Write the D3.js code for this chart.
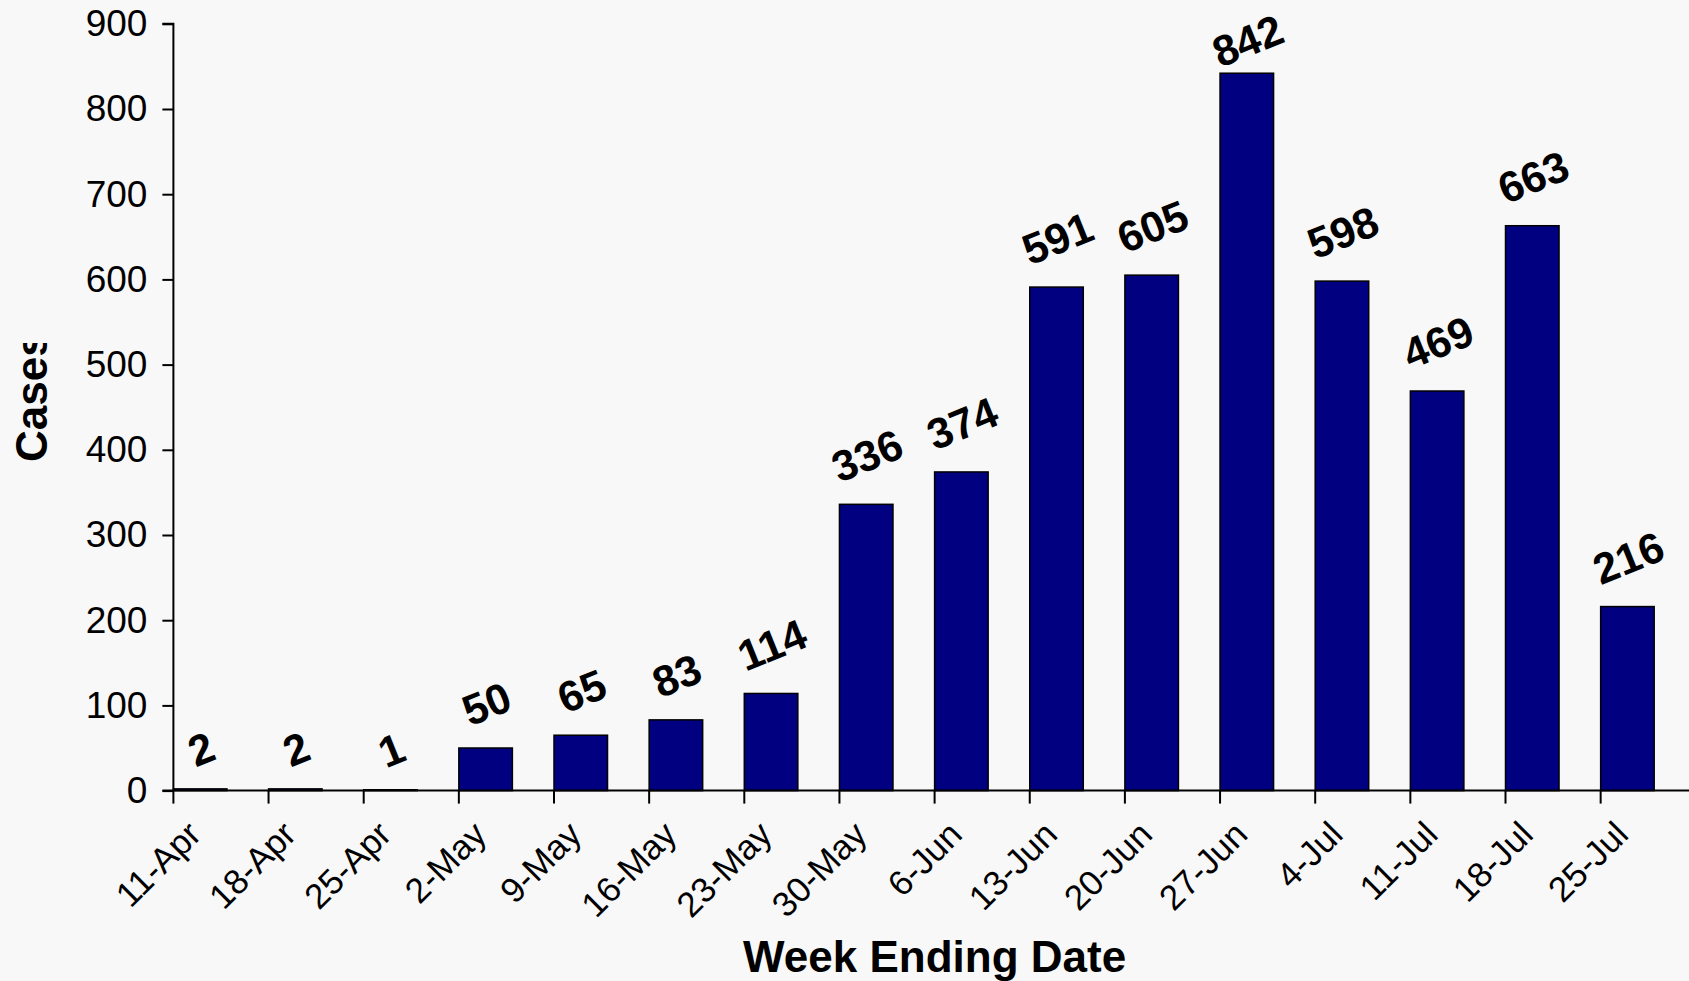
<!DOCTYPE html>
<html>
<head>
<meta charset="utf-8">
<script src="https://cdn.jsdelivr.net/npm/d3@7"></script>
<style>
  html, body { margin: 0; padding: 0; background: #f8f8f8; }
  svg { display: block; }
  text { font-family: "Liberation Sans", Arial, sans-serif; fill: #000; }
</style>
</head>
<body>
<svg id="chart" width="1689" height="981"></svg>
<script>
const categories = ["11-Apr","18-Apr","25-Apr","2-May","9-May","16-May","23-May","30-May","6-Jun","13-Jun","20-Jun","27-Jun","4-Jul","11-Jul","18-Jul","25-Jul"];
const cases = [2,2,1,50,65,83,114,336,374,591,605,842,598,469,663,216];
const yTicks = [0,100,200,300,400,500,600,700,800,900];
const xTitle = "Week Ending Date";
const yTitle = "Cases";

const W = 1689, H = 981;
const svg = d3.select("#chart");
svg.append("rect").attr("width", W).attr("height", H).attr("fill", "#f8f8f8");

const plotLeft = 173.4, step = 95.15;
const plotRight = plotLeft + step * categories.length;
const y0 = 790.6, yTop = 23.8;

const x = d3.scaleBand().domain(categories).range([plotLeft, plotRight]).paddingInner(0).paddingOuter(0);
const y = d3.scaleLinear().domain([0, 900]).range([y0, yTop]);
const barW = x.bandwidth() * 0.5625;

// bars
svg.append("g").selectAll("rect").data(categories).join("rect")
  .attr("x", (c) => x(c))
  .attr("y", (c, i) => y(cases[i]))
  .attr("width", barW)
  .attr("height", (c, i) => y0 - y(cases[i]))
  .attr("fill", "#000080")
  .attr("stroke", "#000")
  .attr("stroke-width", 1.5);

// y axis
const yAxis = d3.axisLeft(y).tickValues(yTicks).tickSize(11).tickPadding(15).tickFormat(d3.format("d"));
const gy = svg.append("g").attr("transform", `translate(${plotLeft},0)`).call(yAxis);
gy.select(".domain").attr("stroke", "#000").attr("stroke-width", 2).attr("d", `M-11,${y(900)}H0V${y0}`);
gy.selectAll(".tick line").attr("stroke", "#000").attr("stroke-width", 2);
gy.selectAll(".tick text").attr("font-size", 37).attr("font-family", "Liberation Sans, Arial, sans-serif").attr("fill", "#000");

// x axis line
svg.append("line").attr("x1", plotLeft - 11).attr("x2", W).attr("y1", y0).attr("y2", y0)
  .attr("stroke", "#000").attr("stroke-width", 2);
// x ticks at category boundaries
svg.append("g").selectAll("line").data(categories).join("line")
  .attr("x1", (c) => x(c)).attr("x2", (c) => x(c))
  .attr("y1", y0).attr("y2", y0 + 13)
  .attr("stroke", "#000").attr("stroke-width", 2);
// x tick labels
svg.append("g").selectAll("text").data(categories).join("text")
  .attr("transform", (c) => `translate(${x(c) + step * 0.31},${y0 + 46}) rotate(-45)`)
  .attr("text-anchor", "end")
  .attr("font-size", 35)
  .text((c) => c);

// value labels
const vfs = 43, ang = 22 * Math.PI / 180;
svg.append("g").selectAll("text").data(categories).join("text")
  .attr("transform", (c, i) => {
    const s = String(cases[i]);
    const w = s.length * 0.556 * vfs, h = 0.716 * vfs;
    const Hh = w * Math.sin(ang) + h * Math.cos(ang);
    let cy = y(cases[i]) - 21 - Hh / 2;
    cy = Math.max(cy, 13 + Hh / 2);
    const cx = x(c) + barW / 2 + 1;
    return `translate(${cx},${cy}) rotate(-22)`;
  })
  .attr("text-anchor", "middle")
  .attr("dy", "0.35em")
  .attr("font-size", vfs)
  .attr("font-weight", "bold")
  .text((c, i) => cases[i]);

// x title
svg.append("text")
  .attr("x", (plotLeft + plotRight) / 2)
  .attr("y", 972)
  .attr("text-anchor", "middle")
  .attr("font-size", 44)
  .attr("font-weight", "bold")
  .text(xTitle);

// y title (clipped at top like the original text box)
svg.append("clipPath").attr("id", "ytclip").append("rect")
  .attr("x", 0).attr("y", 343).attr("width", 80).attr("height", 200);
svg.append("g").attr("clip-path", "url(#ytclip)")
  .append("text")
  .attr("transform", "translate(47,462) rotate(-90)")
  .attr("text-anchor", "start")
  .attr("font-size", 44)
  .attr("font-weight", "bold")
  .text(yTitle);
</script>
</body>
</html>
